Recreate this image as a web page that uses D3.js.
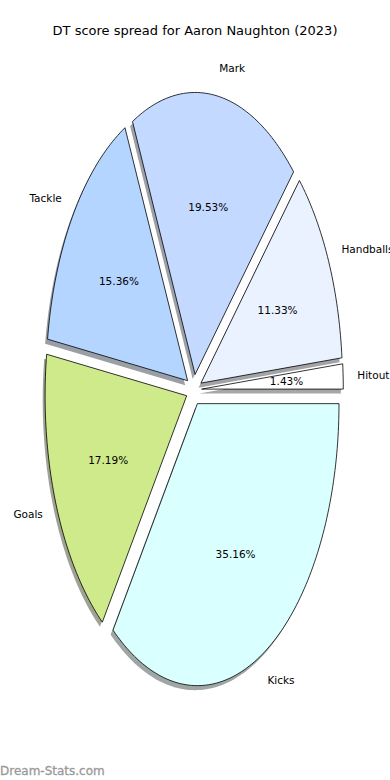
<!DOCTYPE html>
<html>
<head>
<meta charset="utf-8">
<script src="https://cdn.jsdelivr.net/npm/d3@7"></script>
<style>
  body { margin: 0; background: #fff; }
  svg { display: block; font-family: "DejaVu Sans", sans-serif; }
</style>
</head>
<body>
<script>
// data, counterclockwise from 3 o'clock (matplotlib order)
var categories = ["Hitout", "Handballs", "Mark", "Tackle", "Goals", "Kicks"];
var shares = [1.43, 11.33, 19.53, 15.36, 17.19, 35.16];
var colors = ["#ffffff", "#eaf1ff", "#c4d9ff", "#b3d5ff", "#cfea8a", "#d9ffff"];

var width = 390, height = 780;
var explode = 0.055;

var svg = d3.select("body").append("svg")
    .attr("width", width)
    .attr("height", height);

// unit circle stretched into the axes box
var x = d3.scaleLinear().domain([-1, 1]).range([193.9 - 141.6, 193.9 + 141.6]);
var y = d3.scaleLinear().domain([-1, 1]).range([389.8 + 282, 389.8 - 282]);

var pie = d3.pie().sort(null).startAngle(0).endAngle(2 * Math.PI);
var slices = pie(shares).map(function (d, i) {
    var mid = (d.startAngle + d.endAngle) / 2;
    return {
        name: categories[i],
        value: shares[i],
        color: colors[i],
        a0: d.startAngle,
        a1: d.endAngle,
        mid: mid,
        ox: explode * Math.cos(mid),
        oy: explode * Math.sin(mid)
    };
});

function wedgePoints(s, dx, dy) {
    var pts = [[s.ox + dx, s.oy + dy]];
    var n = Math.max(4, Math.ceil((s.a1 - s.a0) / 0.02));
    for (var k = 0; k <= n; k++) {
        var t = s.a0 + (s.a1 - s.a0) * k / n;
        pts.push([s.ox + dx + Math.cos(t), s.oy + dy + Math.sin(t)]);
    }
    return pts;
}

var line = d3.line()
    .x(function (p) { return x(p[0]); })
    .y(function (p) { return y(p[1]); });

function shade(c) {
    var rgb = d3.rgb(c);
    var f = function (v) { return Math.round(v * 0.3 * 0.5 + 255 * 0.5); };
    return d3.rgb(f(rgb.r), f(rgb.g), f(rgb.b)).toString();
}

// shadows first
svg.append("g").selectAll("path")
    .data(slices)
    .enter().append("path")
    .attr("d", function (s) { return line(wedgePoints(s, -0.017, -0.016)) + "Z"; })
    .attr("fill", function (s) { return shade(s.color); });

// wedges
svg.append("g").selectAll("path")
    .data(slices)
    .enter().append("path")
    .attr("d", function (s) { return line(wedgePoints(s, 0, 0)) + "Z"; })
    .attr("fill", function (s) { return s.color; })
    .attr("stroke", "#000")
    .attr("stroke-width", 0.8)
    .attr("stroke-linejoin", "miter");

// category labels (Handballs runs off the right edge, as in the original)
svg.append("g").selectAll("text")
    .data(slices)
    .enter().append("text")
    .attr("x", function (s) { return x(s.ox + 1.1 * Math.cos(s.mid)); })
    .attr("y", function (s) { return y(s.oy + 1.1 * Math.sin(s.mid)); })
    .attr("dy", "0.35em")
    .attr("text-anchor", function (s) { return Math.cos(s.mid) > 0 ? "start" : "end"; })
    .style("font-size", "10.5px")
    .attr("fill", "#000")
    .text(function (s) { return s.name; });

// percentage labels
svg.append("g").selectAll("text")
    .data(slices)
    .enter().append("text")
    .attr("x", function (s) { return x(s.ox + 0.6 * Math.cos(s.mid)); })
    .attr("y", function (s) { return y(s.oy + 0.6 * Math.sin(s.mid)); })
    .attr("dy", "0.35em")
    .attr("text-anchor", "middle")
    .style("font-size", "10.5px")
    .attr("fill", "#000")
    .text(function (s) { return s.value.toFixed(2) + "%"; });

// title
svg.append("text")
    .attr("x", 195)
    .attr("y", 30)
    .attr("dy", "0.35em")
    .attr("text-anchor", "middle")
    .style("font-size", "13px")
    .text("DT score spread for Aaron Naughton (2023)");

// watermark
svg.append("text")
    .attr("x", 0)
    .attr("y", 771)
    .attr("dy", "0.35em")
    .style("font-size", "12px")
    .attr("fill", "#999")
    .attr("stroke", "#999")
    .attr("stroke-width", 0.3)
    .text("Dream-Stats.com");
</script>
</body>
</html>
